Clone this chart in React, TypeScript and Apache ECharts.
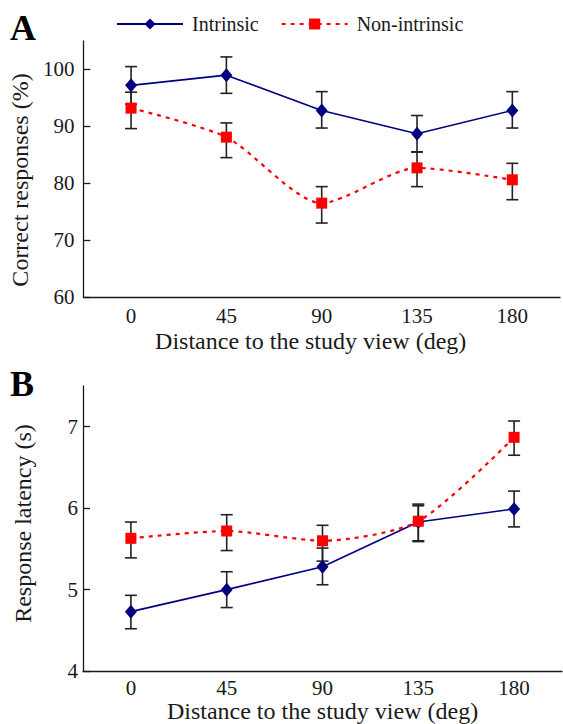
import React, { useEffect, useRef } from "react";
import * as echarts from "echarts";

// ---- data ----
const degrees = ["0", "45", "90", "135", "180"];

// Panel A: correct responses (%)
const accIntrinsic = [97.2, 99.0, 92.8, 88.7, 92.8];
const accIntrinsicLow = [93.9, 95.8, 89.7, 85.5, 89.7];
const accIntrinsicHigh = [100.5, 102.2, 96.1, 91.9, 96.1];
const accNon = [93.2, 88.1, 76.5, 82.7, 80.6];
const accNonLow = [89.6, 84.5, 73.0, 79.4, 77.1];
const accNonHigh = [96.0, 90.6, 79.4, 85.5, 83.5];
const accTicks = [60, 70, 80, 90, 100];

// Panel B: response latency (s)
const latIntrinsic = [4.73, 5.0, 5.28, 5.83, 5.99];
const latIntrinsicLow = [4.52, 4.78, 5.06, 5.59, 5.77];
const latIntrinsicHigh = [4.93, 5.22, 5.51, 6.03, 6.21];
const latNon = [5.63, 5.72, 5.6, 5.84, 6.87];
const latNonLow = [5.39, 5.48, 5.35, 5.6, 6.65];
const latNonHigh = [5.83, 5.92, 5.79, 6.05, 7.07];
const latTicks = [4, 5, 6, 7];

const FONT = '"Liberation Serif", "Times New Roman", serif';
const BLUE = "#000080";
const RED = "#ff0000";
const INK = "#1a1a1a";

function errData(low: number[], high: number[]) {
  return low.map((l, i) => [i, l, high[i]]);
}

function renderErr(params: any, api: any) {
  const x = api.value(0);
  const pLo = api.coord([x, api.value(1)]);
  const pHi = api.coord([x, api.value(2)]);
  const hw = 6;
  const style = { stroke: "#222", lineWidth: 1.6 };
  return {
    type: "group",
    children: [
      { type: "line", shape: { x1: pLo[0], y1: pLo[1], x2: pHi[0], y2: pHi[1] }, style },
      { type: "line", shape: { x1: pLo[0] - hw, y1: pLo[1], x2: pLo[0] + hw, y2: pLo[1] }, style },
      { type: "line", shape: { x1: pHi[0] - hw, y1: pHi[1], x2: pHi[0] + hw, y2: pHi[1] }, style },
    ],
  };
}

function xAxisCfg(gridIndex: number, labelMargin: number, nameGap: number, namePad: number[]) {
  return {
    type: "category",
    gridIndex,
    data: degrees,
    boundaryGap: true,
    name: "Distance to the study view (deg)",
    nameLocation: "middle",
    nameGap,
    nameTextStyle: { fontFamily: FONT, fontSize: 24, color: INK, padding: namePad },
    axisLine: { lineStyle: { color: INK, width: 1.3 } },
    axisTick: { inside: true, length: 7, lineStyle: { color: INK, width: 1.3 } },
    axisLabel: { fontFamily: FONT, fontSize: 21, color: INK, margin: labelMargin },
    splitLine: { show: false },
  };
}

function yAxisCfg(
  gridIndex: number,
  name: string,
  min: number,
  max: number,
  ticks: number[],
  labelMargin: number,
  nameGap: number,
  namePad: number[]
) {
  return {
    type: "value",
    gridIndex,
    min,
    max,
    name,
    nameLocation: "middle",
    nameGap,
    nameTextStyle: { fontFamily: FONT, fontSize: 24, color: INK, padding: namePad },
    axisLine: { show: true, lineStyle: { color: INK, width: 1.3 } },
    axisTick: { show: true, inside: true, length: 7, customValues: ticks, lineStyle: { color: INK, width: 1.3 } },
    axisLabel: { fontFamily: FONT, fontSize: 21, color: INK, margin: labelMargin, customValues: ticks },
    splitLine: { show: false },
  };
}

function lineSeries(name: string, data: number[], idx: number, isRed: boolean) {
  return {
    name,
    type: "line",
    xAxisIndex: idx,
    yAxisIndex: idx,
    data,
    smooth: isRed ? 0.25 : false,
    symbol: isRed ? "rect" : "diamond",
    symbolSize: isRed ? [11, 11] : [12, 14],
    itemStyle: { color: isRed ? RED : BLUE },
    lineStyle: isRed
      ? { color: RED, width: 2.2, type: [4, 5] }
      : { color: BLUE, width: 1.6, type: "solid" },
    z: isRed ? 4 : 3,
  };
}

function errSeries(low: number[], high: number[], idx: number) {
  return {
    type: "custom",
    xAxisIndex: idx,
    yAxisIndex: idx,
    data: errData(low, high),
    encode: { x: 0, y: [1, 2] },
    renderItem: renderErr,
    z: 2,
    silent: true,
  };
}

export default function App() {
  const ref = useRef<HTMLDivElement>(null);
  useEffect(() => {
    if (!ref.current) return;
    const chart = echarts.init(ref.current, undefined, { renderer: "svg" });
    chart.setOption({
      animation: false,
      backgroundColor: "#ffffff",
      textStyle: { fontFamily: FONT },
      legend: {
        left: 111,
        top: 9,
        itemWidth: 66,
        itemHeight: 14,
        itemGap: 22,
        data: ["Intrinsic", "Non-intrinsic"],
        textStyle: { fontFamily: FONT, fontSize: 20, color: INK, padding: [0, 0, 0, 4] },
      },
      grid: [
        { left: 80, right: 3, top: 41, height: 256 },
        { left: 83, right: 1, top: 386, height: 286 },
      ],
      xAxis: [xAxisCfg(0, 8, 32, [0, 22, 0, 0]), xAxisCfg(1, 6, 27, [0, 0, 0, 0])],
      yAxis: [
        yAxisCfg(0, "Correct responses (%)", 60, 105, accTicks, 9, 46, [0, 22, 0, 0]),
        yAxisCfg(1, "Response latency (s)", 4, 7.5, latTicks, 5, 48, [0, 0, 0, 10]),
      ],
      graphic: [
        { type: "text", left: 10, top: 10, style: { text: "A", font: `bold 36px ${FONT}`, fill: "#000" } },
        { type: "text", left: 10, top: 366, style: { text: "B", font: `bold 36px ${FONT}`, fill: "#000" } },
      ],
      series: [
        errSeries(accIntrinsicLow, accIntrinsicHigh, 0),
        errSeries(accNonLow, accNonHigh, 0),
        lineSeries("Intrinsic", accIntrinsic, 0, false),
        lineSeries("Non-intrinsic", accNon, 0, true),
        errSeries(latIntrinsicLow, latIntrinsicHigh, 1),
        errSeries(latNonLow, latNonHigh, 1),
        lineSeries("Intrinsic", latIntrinsic, 1, false),
        lineSeries("Non-intrinsic", latNon, 1, true),
      ],
    });
    return () => chart.dispose();
  }, []);
  return (
    <div
      ref={ref}
      style={{ position: "absolute", left: 0, top: 0, width: 563, height: 724, background: "#fff" }}
    />
  );
}
